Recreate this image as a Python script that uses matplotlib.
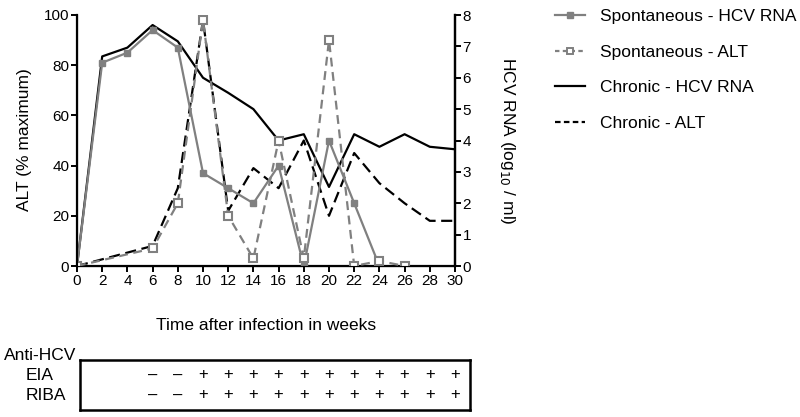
import numpy as np
import matplotlib
matplotlib.use("Agg")
import matplotlib.pyplot as plt
from matplotlib.lines import Line2D

plt.rcParams['font.family'] = ['Liberation Sans', 'DejaVu Sans']

# data, all in % of the left axis (right axis: 8 log10 = 100 %)
weeks_spont_rna = [0, 2, 4, 6, 8, 10, 12, 14, 16, 18, 20, 22, 24]
spont_rna = [0, 81, 85, 94, 87, 37, 31, 25, 40, 0, 50, 25, 0]

weeks_spont_alt = [0, 6, 8, 10, 12, 14, 16, 18, 20, 22, 24, 26]
spont_alt = [0, 7, 25, 98, 20, 3, 50, 3, 90, 0, 2, 0]

weeks_chron = [0, 2, 4, 6, 8, 10, 12, 14, 16, 18, 20, 22, 24, 26, 28, 30]
chron_rna = [0, 83.5, 87, 96, 89.5, 75, 69, 62.5, 50, 52.5, 31.5, 52.5, 47.5, 52.5, 47.5, 46.5]

weeks_chron_alt = [0, 6, 8, 10, 12, 14, 16, 18, 20, 22, 24, 26, 28, 30]
chron_alt = [0, 8, 31, 98, 22, 39, 31, 50, 20, 45, 33, 25, 18, 18]

table_weeks = [6, 8, 10, 12, 14, 16, 18, 20, 22, 24, 26, 28, 30]
eia = ['–', '–', '+', '+', '+', '+', '+', '+', '+', '+', '+', '+', '+']
riba = ['–', '–', '+', '+', '+', '+', '+', '+', '+', '+', '+', '+', '+']

gray = '#808080'
W, H = 800, 417
fig = plt.figure(figsize=(8, 4.17), dpi=100)

def px(x0, y0, x1, y1):
    return [x0 / W, 1 - y1 / H, (x1 - x0) / W, (y1 - y0) / H]

ax = fig.add_axes(px(77, 15, 455, 266))
ax.plot(weeks_chron, chron_rna, color='black', lw=1.6, zorder=3)
ax.plot(weeks_chron_alt, chron_alt, color='black', lw=1.6, ls=(0, (5, 2.5)), zorder=3)
ax.plot(weeks_spont_rna, spont_rna, color=gray, lw=1.6, marker='s', ms=5,
        mfc=gray, mec=gray, zorder=4)
ax.plot(weeks_spont_alt, spont_alt, color=gray, lw=1.6, ls=(0, (4, 2.5)), marker='s', ms=6,
        mfc='white', mec=gray, mew=1.5, zorder=4)

ax.set_xlim(0, 30)
ax.set_ylim(0, 100)
ax.set_xticks(range(0, 31, 2))
ax.set_yticks(range(0, 101, 20))
ax.spines['top'].set_visible(False)
for s in ['left', 'bottom', 'right']:
    ax.spines[s].set_linewidth(1.6)
ax.tick_params(width=1.4, length=4, labelsize=11, pad=1.5)

ax2 = ax.twinx()
ax2.set_ylim(0, 8)
ax2.set_yticks(range(0, 9))
ax2.spines['top'].set_visible(False)
ax2.spines['right'].set_linewidth(1.6)
ax2.tick_params(width=1.4, length=4, labelsize=11, pad=1.5)

fig.text(25 / W, 1 - 140 / H, 'ALT (% maximum)', rotation=90, ha='center', va='center', fontsize=12.5)
fig.text(508 / W, 1 - 141 / H, 'HCV RNA (log$_{10}$ / ml)', rotation=270, ha='center', va='center',
         fontsize=12.5)
fig.text(266 / W, 1 - 326 / H, 'Time after infection in weeks', ha='center', va='center', fontsize=12.5)

# legend
handles = [
    Line2D([], [], color=gray, lw=1.6, marker='s', ms=4, mfc=gray, mec=gray),
    Line2D([], [], color=gray, lw=1.6, ls=(0, (2, 1.5)), marker='s', ms=5, mfc='white', mec=gray, mew=1.4),
    Line2D([], [], color='black', lw=1.6),
    Line2D([], [], color='black', lw=1.6, ls=(0, (2.5, 1.5))),
]
labels = ['Spontaneous - HCV RNA', 'Spontaneous - ALT', 'Chronic - HCV RNA', 'Chronic - ALT']
fig.legend(handles, labels, loc='upper left', bbox_to_anchor=(555 / W, 1 - 9 / H),
           frameon=False, fontsize=12.5, handlelength=1.75, labelspacing=1.18,
           handletextpad=0.85, borderpad=0, borderaxespad=0)

# antibody table
tx0, tx1 = 80, 470
tab = fig.add_axes(px(tx0, 360, tx1, 410))
tab.set_xlim((tx0 - 77) / 12.6, (tx1 - 77) / 12.6)
tab.set_ylim(0, 1)
tab.set_xticks([])
tab.set_yticks([])
for s in tab.spines.values():
    s.set_linewidth(1.8)
for w, e, r in zip(table_weeks, eia, riba):
    tab.text(w, 0.7, e, ha='center', va='center', fontsize=12)
    tab.text(w, 0.3, r, ha='center', va='center', fontsize=12)

fig.text(40 / W, 1 - 355 / H, 'Anti-HCV', ha='center', va='center', fontsize=12.5)
fig.text(26 / W, 1 - 375 / H, 'EIA', ha='left', va='center', fontsize=12.5)
fig.text(26 / W, 1 - 395 / H, 'RIBA', ha='left', va='center', fontsize=12.5)

fig.savefig('out.png', dpi=100)
